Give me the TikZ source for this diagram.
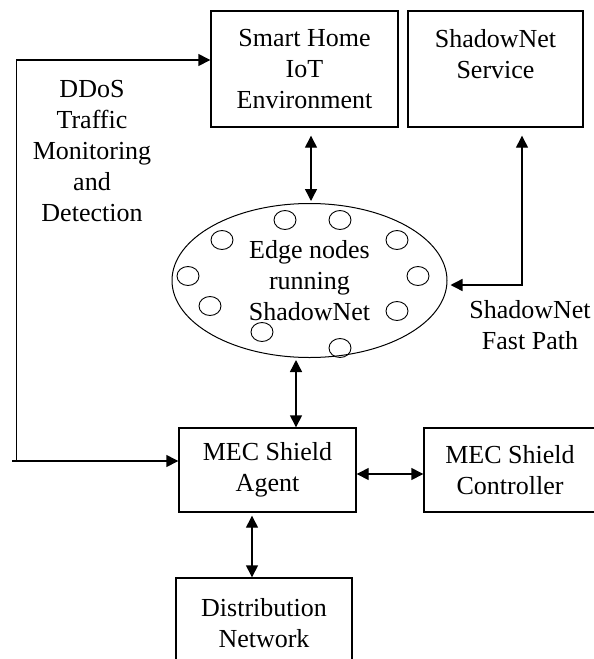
\documentclass[tikz,border=0pt]{standalone}
\usepackage{fontspec}
\setmainfont{Liberation Serif}
\usetikzlibrary{arrows.meta,shapes.geometric,calc}
\begin{document}
\begin{tikzpicture}[x=1pt,y=-1pt,
  box/.style={draw, line width=1.4pt, align=center, inner sep=0pt, font=\fontsize{26}{31}\selectfont},
  lbl/.style={align=center, inner sep=0pt, font=\fontsize{26}{31}\selectfont},
  arr/.style={line width=1.4pt, -{Triangle[length=12pt,width=12pt]}},
  biarr/.style={line width=1.4pt, {Triangle[length=12pt,width=12pt]}-{Triangle[length=12pt,width=12pt]}},
  dot/.style={line width=0.9pt}]
\useasboundingbox (0,0) rectangle (594,659);
\clip (0,0) rectangle (594,659);
\fill[white] (0,0) rectangle (594,659);
% boxes
\node[box, minimum width=187pt, minimum height=116pt] (home) at (304.5,69) {Smart Home\\IoT\\Environment};
\node[box, minimum width=175pt, minimum height=116pt] (svc) at (495.5,69) {ShadowNet\\Service\\\mbox{}};
\node[draw, line width=1pt, ellipse, minimum width=275pt, minimum height=154pt, inner sep=0pt, align=center, font=\fontsize{26}{31}\selectfont] (edge) at (309.5,280.5) {Edge nodes\\running\\ShadowNet};
\node[box, minimum width=177pt, minimum height=84pt] (agent) at (267.5,470) {MEC Shield\\Agent};
\node[box, minimum width=172pt, minimum height=84pt] (ctrl) at (510,470) {MEC Shield\\Controller};
\node[box, minimum width=176pt, minimum height=90pt] (dist) at (264,623) {Distribution\\Network};
% small edge-node circles
\foreach \p in {(285,220),(340,220),(222,240),(397,240),(188,276),(418,276),(210,306),(397,311),(262,332),(340,348)}
  \draw[dot] \p ellipse (11 and 9.5);
% labels
\node[lbl] (ddos) at (92,151) {DDoS\\Traffic\\Monitoring\\and\\Detection};
\node[lbl] (fp) at (530,325) {ShadowNet\\Fast Path};
% connectors
\draw[biarr] ($(home.south)+(6.5,8)$) -- ($(edge.north)+(1.5,-2)$);
\draw[biarr] ($(svc.south)+(26.5,8)$) |- ($(edge.east)+(3,4.5)$);
\draw[biarr] ($(edge.south)+(-13.5,2)$) -- ($(agent.north)+(28.5,0)$);
\draw[biarr] ($(agent.east)+(0,4)$) -- ($(ctrl.west)+(0,4)$);
\draw[biarr] ($(agent.south)+(-15.5,3)$) -- ($(dist.north)+(-12,0)$);
\coordinate (fs) at (12,461);
\coordinate (fb) at (16.5,461);
\draw[arr] (fs) -- (agent.west |- fs);
\draw[arr] (fb) |- ($(home.west)+(0,-9)$);
\end{tikzpicture}
\end{document}
